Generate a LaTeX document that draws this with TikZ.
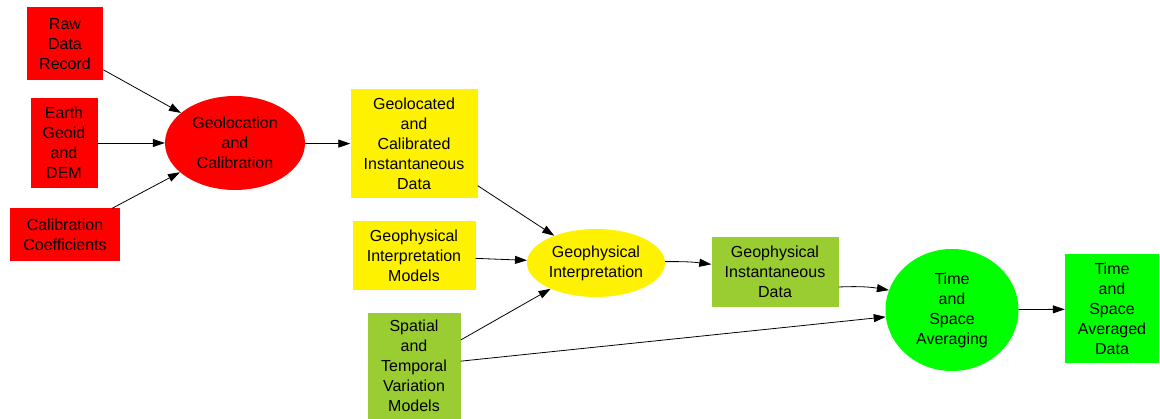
\documentclass[tikz,border=0pt]{standalone}
\usepackage{fontspec}
\setmainfont{Liberation Sans}
\usetikzlibrary{shapes.geometric,arrows.meta}
\definecolor{olive}{HTML}{9ACD32}
\begin{document}
\begin{tikzpicture}
      [x=1pt,y=-1pt,
       every node/.style={align=center,inner sep=0pt,font=\fontsize{16}{20}\selectfont},
       box/.style={rectangle},
       oval/.style={ellipse},
       every edge/.style={draw,-{Triangle[length=12pt,width=8pt]},line width=0.8pt}]
      \useasboundingbox (0,0) rectangle (1160,419);
      \node [box,fill=red,minimum width=76,minimum height=73] (raw) at (65,44) {Raw\\Data\\Record};
      \node [box,fill=red,minimum width=67,minimum height=90] (geoid) at (64,143) {Earth\\Geoid\\and\\DEM};
      \node [box,fill=red,minimum width=110,minimum height=53] (coef) at (65,235) {Calibration\\Coefficients};
      \node [oval,fill=red,minimum width=140,minimum height=94] (geocal) at (235,143) {Geolocation\\and\\Calibration};
      \node [box,fill=yellow,minimum width=127,minimum height=109] (geodata) at (414,144) {Geolocated\\and\\Calibrated\\Instantaneous\\Data};
      \node [box,fill=yellow,minimum width=123,minimum height=69] (models) at (414,256) {Geophysical\\Interpretation\\Models};
      \node [oval,fill=yellow,minimum width=138,minimum height=68] (interp) at (596,263) {Geophysical\\Interpretation};
      \node [box,fill=olive,minimum width=93,minimum height=106] (spatial) at (414,366) {Spatial\\and\\Temporal\\Variation\\Models};
      \node [box,fill=olive,minimum width=127,minimum height=70] (instdata) at (775,272) {Geophysical\\Instantaneous\\Data};
      \node [oval,fill=green,minimum width=133,minimum height=122] (avg) at (952,310) {Time\\and\\Space\\Averaging};
      \node [box,fill=green,minimum width=94,minimum height=109] (avgdata) at (1112,309) {Time\\and\\Space\\Averaged\\Data};

      \draw (raw.south east) ++(0,-11) coordinate (r1) (r1) edge (geocal);
      \draw (geoid) edge (geocal);
      \draw (coef.north east) ++(-8,0) coordinate (c1) (c1) edge (geocal);
      \draw (geocal) edge (geodata);
      \draw (geodata.south east) ++(0,-13) coordinate (g1) (g1) edge (interp);
      \draw (models) edge (interp);
      \draw (spatial.east) ++(0,-26) coordinate (s1) (s1) edge (interp);
      \draw (interp) edge [bend left=4] (instdata);
      \draw (instdata.east) ++(0,15) coordinate (i1) (i1) edge [bend left=6] (avg);
      \draw (spatial) edge (avg);
      \draw (avg) edge (avgdata);
    \end{tikzpicture}
\end{document}
